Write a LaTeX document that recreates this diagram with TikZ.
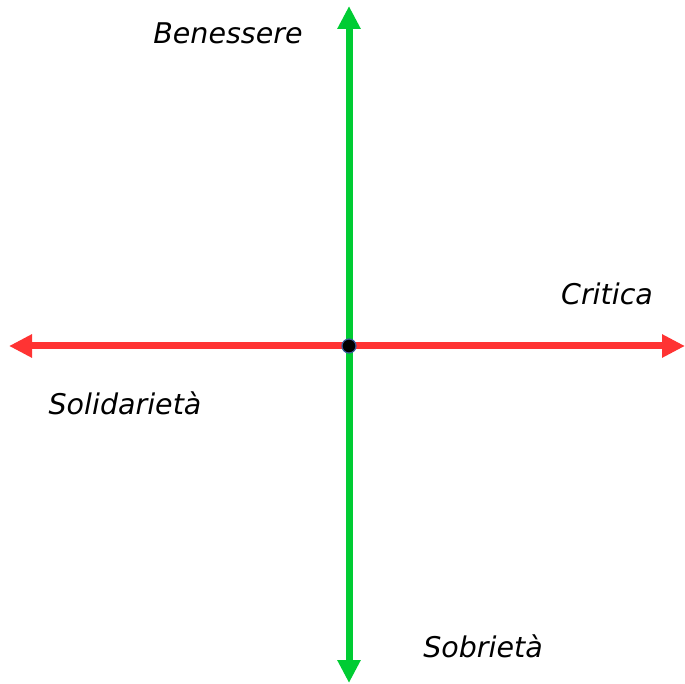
\documentclass[tikz,border=0pt]{standalone}
\usepackage{fontspec}
\setmainfont{DejaVu Sans}
\usetikzlibrary{arrows.meta}
\definecolor{axisred}{HTML}{FF3333}
\definecolor{axisgreen}{HTML}{00CC33}
\definecolor{rim}{HTML}{3A5A9A}

\begin{document}
\begin{tikzpicture}[x=1pt,y=-1pt,font=\itshape\fontsize{28.5}{32}\selectfont,
    >={Triangle[length=23pt,width=22pt]},
    axis/.style={line width=7pt}]
  \useasboundingbox (0,0) rectangle (685,684);

  % Ends of the two axes.
  \coordinate (west) at (9,346);
  \coordinate (east) at (685,346);
  \coordinate (north) at (349,6);
  \coordinate (south) at (349,683);

  \draw[axis,axisred,<->] (west)--(east);
  \draw[axis,axisgreen,<->] (south)--(north);

  % Crossing point.
  \node[circle,fill=black,draw=rim,line width=1.2pt,minimum size=14pt,
        inner sep=0pt] (origin) at (349,346) {};

  % Poles.
  \node (benessere) at (228,33) {Benessere};
  \node (critica) at (607,294) {Critica};
  \node (solidarieta) at (125,403) {Solidarietà};
  \node (sobrieta) at (483,646) {Sobrietà};
\end{tikzpicture}
\end{document}
